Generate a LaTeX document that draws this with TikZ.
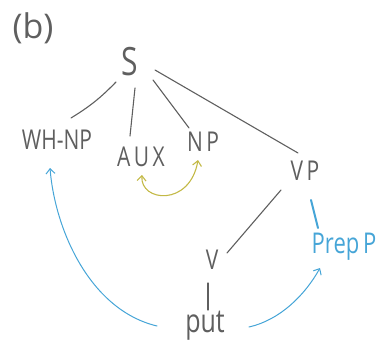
\documentclass[tikz,border=0pt]{standalone}
\usepackage{fontspec}
\usepackage{graphicx}
\setmainfont{Open Sans}
\usetikzlibrary{arrows.meta}
\definecolor{pencil}{RGB}{95,95,95}
\definecolor{bluepen}{RGB}{70,165,215}
\definecolor{yellowpen}{RGB}{195,185,70}
\newcommand{\hw}[1]{\scalebox{1}[1.3]{#1}}
\tikzset{
  lbl/.style={text=pencil, font=\fontsize{21}{24}\selectfont, inner sep=0pt},
  bluelbl/.style={text=bluepen, font=\fontsize{22}{26}\selectfont, inner sep=0pt},
  branch/.style={draw=pencil, line width=1.1pt, line cap=round},
  bluearc/.style={draw=bluepen, line width=1pt, line cap=round},
  yellowarc/.style={draw=yellowpen, line width=1.1pt, line cap=round},
  tip/.style={-{Straight Barb[length=5pt,width=9pt]}},
}
\begin{document}
\begin{tikzpicture}[x=1pt,y=-1pt]
\useasboundingbox (0,0) rectangle (379,353);
\node[lbl, font=\fontsize{34}{38}\selectfont] (lab) at (33,28) {(b)};
\node[lbl, font=\fontsize{30}{34}\selectfont] (S) at (130,62) {\hw{S}};
\node[lbl] (whnp) at (57,140) {\hw{WH-NP}};
\node[lbl] (aux) at (141,157) {\hw{A\,U\,X}};
\node[lbl] (np) at (203,142) {\hw{N\,P}};
\node[lbl] (vp) at (305,171) {\hw{V\,P}};
\node[lbl] (v) at (212,260) {\hw{V}};
\node[lbl, font=\fontsize{25}{28}\selectfont] (put) at (205,326) {\hw{put}};
\node[bluelbl] (prepp) at (344,247) {\hw{Prep\,P}};
% branches
\draw[branch] ([shift={(-14,20)}]S.center) to[bend left=7] ([shift={(14,-22)}]whnp.center);
\draw[branch] ([shift={(5,26)}]S.center) -- ([shift={(-11,-21)}]aux.center);
\draw[branch] ([shift={(23,18)}]S.center) -- ([shift={(-14,-14)}]np.center);
\draw[branch] ([shift={(25,8)}]S.center) -- ([shift={(-7,-18)}]vp.center);
\draw[branch] ([shift={(-24,19)}]vp.center) -- ([shift={(15,-7)}]v.center);
\draw[branch] ([shift={(-4,23)}]v.center) -- ([shift={(3,-16)}]put.center);
% blue connections
\draw[bluearc, line width=2pt] ([shift={(6,29)}]vp.center) -- ([shift={(-26,-19)}]prepp.center);
\draw[bluearc, tip] ([shift={(-48,0)}]put.center) .. controls (90,310) and (55,230) .. ([shift={(-7,28)}]whnp.center);
\draw[bluearc, tip] ([shift={(44,1)}]put.center) .. controls (280,320) and (305,295) .. ([shift={(-24,21)}]prepp.center);
% yellow
\draw[yellowarc, {Straight Barb[length=5pt,width=9pt]}-{Straight Barb[length=5pt,width=9pt]}] ([shift={(1,18)}]aux.center) .. controls (140,202) and (190,207) .. ([shift={(-5,18)}]np.center);
\end{tikzpicture}
\end{document}
